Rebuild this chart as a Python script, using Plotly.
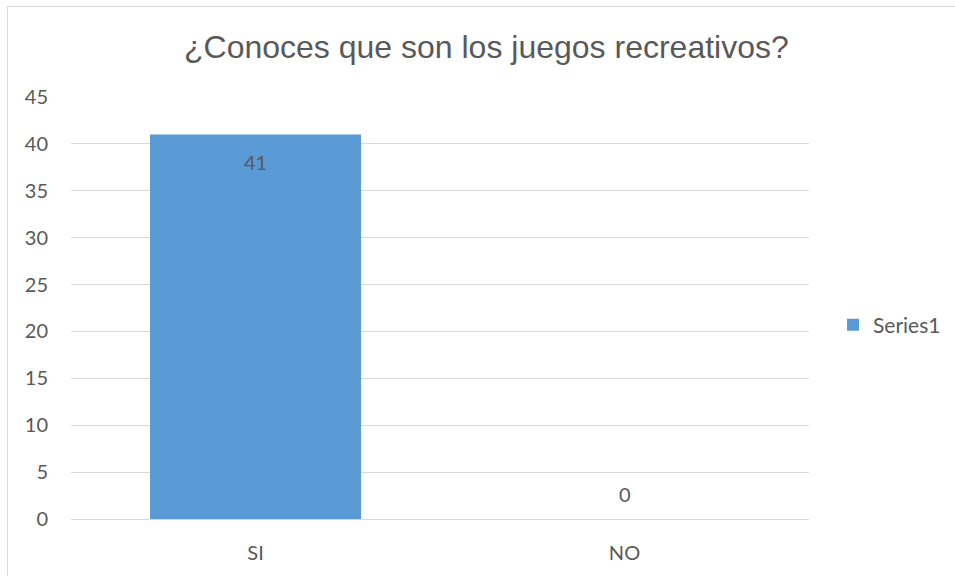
import plotly.graph_objects as go

# Survey answers
categories = ["SI", "NO"]
counts = [41, 0]
series_name = "Series1"
title_text = "¿Conoces que son los juegos recreativos?"
y_ticks = [0, 5, 10, 15, 20, 25, 30, 35, 40, 45]

BAR_COLOR = "#5B9BD5"
TEXT_COLOR = "#595959"
GRID_COLOR = "#D9D9D9"
BODY_FONT = "Lato, Carlito, Calibri, sans-serif"

W, H = 955, 576
ML, MR, MT, MB = 71, 146, 97, 57

fig = go.Figure()
fig.add_trace(go.Bar(
    x=categories,
    y=counts,
    name=series_name,
    marker=dict(color=BAR_COLOR, line=dict(width=0)),
    showlegend=True,
))

# Value labels: inside the top of a tall bar, above the axis for an empty one
annotations = []
for cat, val in zip(categories, counts):
    inside = val > 0
    annotations.append(dict(
        x=cat, y=val, xref="x", yref="y",
        text=str(val), showarrow=False,
        yanchor="top" if inside else "bottom",
        yshift=-13 if inside else 11,
        font=dict(family=BODY_FONT, size=20, color=TEXT_COLOR),
    ))

pw, ph = W - ML - MR, H - MT - MB
def px_x(p):
    return (p - ML) / pw
def px_y(p):
    return (H - MB - p) / ph

# Title
annotations.append(dict(
    x=px_x(486), y=px_y(47),
    xref="paper", yref="paper", text=title_text, showarrow=False,
    xanchor="center", yanchor="middle",
    font=dict(family="Liberation Sans, Arial, sans-serif", size=32, color=TEXT_COLOR),
))

fig.update_layout(
    width=W, height=H,
    margin=dict(l=ML, r=MR, t=MT, b=MB, autoexpand=False),
    paper_bgcolor="white",
    plot_bgcolor="white",
    bargap=0.428,
    annotations=annotations,
    shapes=[dict(
        type="rect", xref="paper", yref="paper",
        x0=px_x(7.5), x1=px_x(990), y0=px_y(6.5), y1=px_y(620),
        line=dict(color=GRID_COLOR, width=1), fillcolor="rgba(0,0,0,0)",
        layer="below",
    )],
    legend=dict(
        x=px_x(833), y=px_y(325), xanchor="left", yanchor="middle",
        font=dict(family=BODY_FONT, size=21, color=TEXT_COLOR),
        bgcolor="rgba(0,0,0,0)", itemwidth=30,
    ),
    xaxis=dict(
        showgrid=False, showline=False, ticks="",
        tickfont=dict(family=BODY_FONT, size=20, color=TEXT_COLOR),
        ticklabelstandoff=20,
    ),
    yaxis=dict(
        range=[0, 45], tickvals=y_ticks,
        showgrid=True, gridcolor=GRID_COLOR, gridwidth=1,
        zeroline=True, zerolinecolor=GRID_COLOR, zerolinewidth=1,
        showline=False, ticks="",
        tickfont=dict(family=BODY_FONT, size=20, color=TEXT_COLOR),
        ticklabelstandoff=22,
    ),
)

fig.write_html("out.html")
